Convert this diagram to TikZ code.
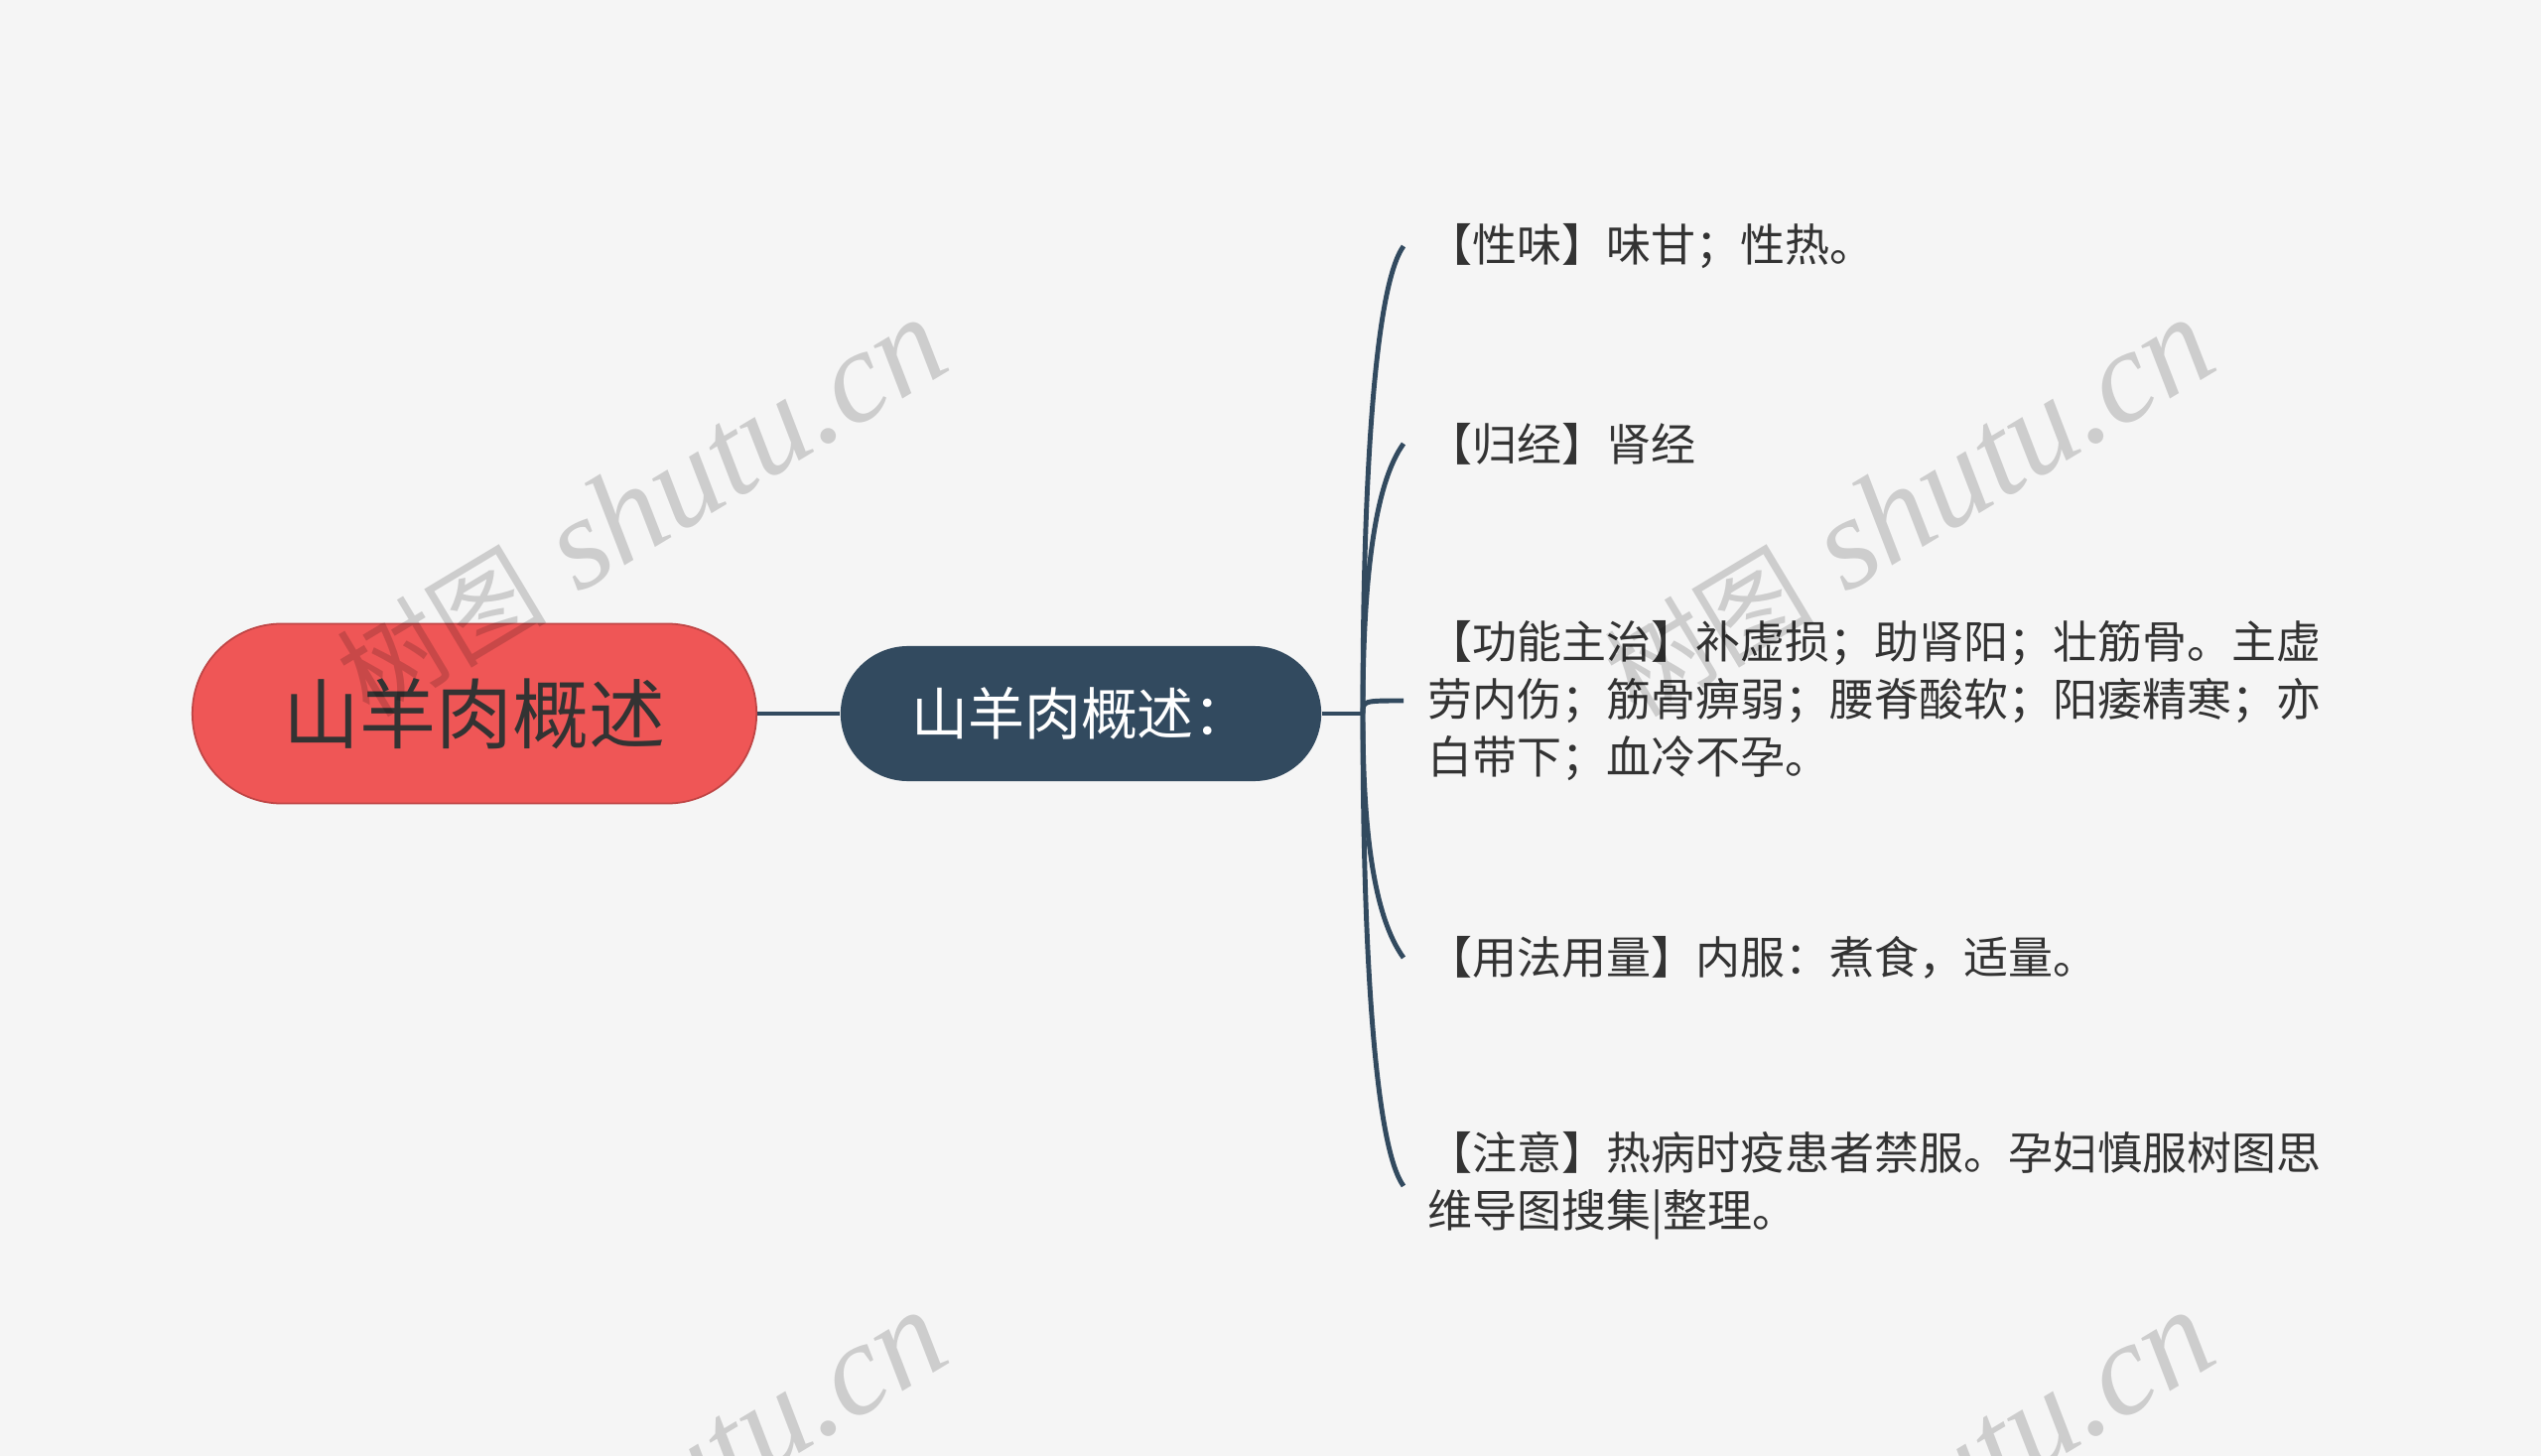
\documentclass[tikz,border=0pt]{standalone}
\usepackage{fontspec}
\setmainfont{Liberation Serif}
\newfontfamily\cjk{Noto Sans CJK SC}
\usepackage{tikz}
\usetikzlibrary{calc,positioning}
\definecolor{bgcol}{HTML}{F5F5F5}
\definecolor{rootred}{HTML}{EF5656}
\definecolor{subblue}{HTML}{324A5F}
\definecolor{txtgray}{HTML}{333333}

\begin{document}
\begin{tikzpicture}[x=0.01cm,y=-0.01cm,
    rootbox/.style={fill=rootred,draw=rootred!80!black,line width=0.5pt,rounded corners=0.9cm,
      minimum width=5.68cm,minimum height=1.81cm,text=txtgray,font=\cjk\fontsize{21.9pt}{26pt}\selectfont},
    subbox/.style={fill=subblue,rounded corners=0.68cm,minimum width=4.84cm,minimum height=1.36cm,
      text=white,font=\cjk\fontsize{16.2pt}{20pt}\selectfont},
    leaf/.style={anchor=west,inner xsep=0.24cm,inner ysep=0pt,align=left,text=txtgray,
      font=\cjk\fontsize{12.8pt}{16.5pt}\selectfont},
    link/.style={draw=subblue,line width=1.4pt},
    wmark/.style={rotate=31,text=black,opacity=0.16,font=\fontsize{37.5pt}{37.5pt}\selectfont\itshape}]
        %Background
        \fill[bgcol] (0,0) rectangle (2560,1467);
        \useasboundingbox (0,0) rectangle (2560,1467);
        %Nodes
        \node[rootbox] (root) at (478,719) {山羊肉概述};
        \node[subbox] (sub) at (1089,719) {山羊肉概述：};
        \coordinate (jn) at (1373,719);
        %Leaves
        \node[leaf] (l1) at (1414,248) {【性味】味甘；性热。};
        \node[leaf] (l2) at (1414,447) {【归经】肾经};
        \node[leaf] (l3) at (1414,706) {【功能主治】补虚损；助肾阳；壮筋骨。主虚\\劳内伤；筋骨痹弱；腰脊酸软；阳痿精寒；亦\\白带下；血冷不孕。};
        \node[leaf] (l4) at (1414,965) {【用法用量】内服：煮食，适量。};
        \node[leaf] (l5) at (1414,1195) {【注意】热病时疫患者禁服。孕妇慎服树图思\\维导图搜集|整理。};
        %Links
        \draw[link] (root.east) -- (sub.west);
        \draw[link] (sub.east) -- (jn);
        \draw[link] (jn) .. controls (jn |- l3.west) .. (l3.west);
        \foreach \l/\c in {l1/40, l2/40, l4/-40, l5/-40}
          \draw[link] (jn) .. controls ($(jn)!0.5!(jn |- \l.west)$) and ($(\l.west)+(-29,\c)$) .. (\l.west);
        %Watermark
        \begin{scope}
          \clip (0,0) rectangle (2560,1467);
          \foreach \wx/\wy in {646/512, 1923/512, 646/1512, 1923/1512}
            \node[wmark] (wm-\wx-\wy) at (\wx,\wy) {{\cjk\upshape\fontsize{30pt}{30pt}\selectfont 树图} shutu.cn};
        \end{scope}
\end{tikzpicture}
\end{document}
